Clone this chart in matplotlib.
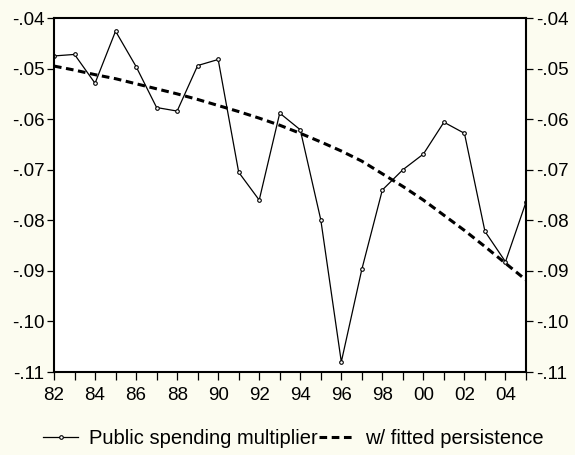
import matplotlib
matplotlib.use("Agg")
import matplotlib.pyplot as plt
import numpy as np

years = list(range(1982, 2006))
multiplier = [-0.0475, -0.0472, -0.0529, -0.0426, -0.0496, -0.0577, -0.0584, -0.0494,
              -0.0482, -0.0705, -0.0760, -0.0588, -0.0621, -0.0799, -0.1080, -0.0897,
              -0.0740, -0.0700, -0.0669, -0.0606, -0.0628, -0.0822, -0.0882, -0.0764]
fitted = [-0.0495, -0.0503, -0.0512, -0.0520, -0.0530, -0.0540, -0.0550, -0.0561,
          -0.0573, -0.0585, -0.0598, -0.0612, -0.0628, -0.0645, -0.0663, -0.0683,
          -0.0708, -0.0733, -0.0760, -0.0790, -0.0820, -0.0852, -0.0885, -0.0918]
yticks = [-0.04, -0.05, -0.06, -0.07, -0.08, -0.09, -0.10, -0.11]
ytick_labels = ["-.04", "-.05", "-.06", "-.07", "-.08", "-.09", "-.10", "-.11"]
label_years = list(range(1982, 2006, 2))

plt.rcParams['font.family'] = ['Liberation Sans', 'DejaVu Sans']

bg = '#fcfcf0'
fig = plt.figure(figsize=(5.75, 4.55), dpi=100, facecolor=bg)
ax = fig.add_axes([0.0939, 0.1824, 0.8209, 0.778])
ax.set_facecolor('white')

l1, = ax.plot(years, multiplier, color='black', lw=0.9, marker='o', ms=2.6,
              mfc='white', mec='black', mew=0.8, label='Public spending multiplier')
l2, = ax.plot(years, fitted, color='black', lw=2.2, ls=(0, (2.5, 1.5)),
              label='w/ fitted persistence')

ax.set_xlim(1982, 2005)
ax.set_ylim(-0.11, -0.04)
ax.set_yticks(yticks)
ax.set_yticklabels(ytick_labels)
ax.set_xticks(years)
ax.set_xticklabels([f"{y % 100:02d}" if y in label_years else "" for y in years])

ax.tick_params(axis='both', direction='out', length=5, width=0.9, labelsize=13.5, colors='black')
ax.tick_params(axis='x', length=6, pad=5)
ax.tick_params(axis='y', which='both', left=True, right=True, labelleft=True, labelright=True, pad=2)

for s in ax.spines.values():
    s.set_linewidth(1.5)
    s.set_color('black')

fig.legend(handles=[l1, l2], loc='center', bbox_to_anchor=(0.51, 0.037), ncol=2,
           frameon=False, fontsize=14.5, handlelength=1.75, columnspacing=0.1,
           handletextpad=0.5, borderpad=0.2)

fig.savefig('out.png', dpi=100, facecolor=bg)
